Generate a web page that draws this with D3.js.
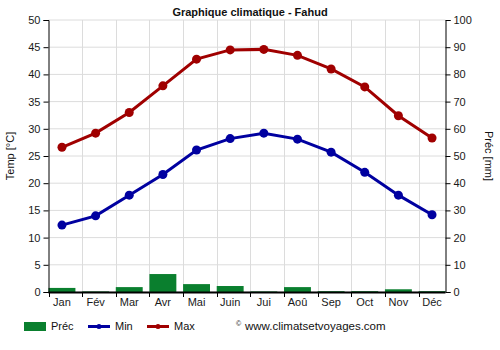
<!DOCTYPE html>
<html><head><meta charset="utf-8">
<script src="https://cdn.jsdelivr.net/npm/d3@7"></script>
<style>body{margin:0;background:#fff}svg{display:block;font-family:"Liberation Sans",Arial,sans-serif}</style>
</head><body><svg id="c" width="500" height="350"></svg>
<script>
const months = ["Jan","Fév","Mar","Avr","Mai","Juin","Jui","Aoû","Sep","Oct","Nov","Déc"];
const tempMin = [12.3,14.0,17.8,21.6,26.1,28.2,29.2,28.1,25.7,22.0,17.8,14.2];
const tempMax = [26.6,29.2,33.0,37.9,42.8,44.5,44.6,43.5,41.0,37.7,32.4,28.3];
const precip = [1.5,0.2,1.8,6.6,2.9,2.2,0.2,1.8,0.3,0.3,1.0,0.3];
const tempTicks = [0,5,10,15,20,25,30,35,40,45,50];
const precTicks = [0,10,20,30,40,50,60,70,80,90,100];

const svg = d3.select("#c");
const L = 48.5, R = 445.5, T = 20, B = 292;
const x = d3.scaleBand().domain(months).range([L, R]).paddingInner(0.2).paddingOuter(0);
const yT = d3.scaleLinear().domain([0,50]).range([B,T]);
const yP = d3.scaleLinear().domain([0,100]).range([B,T]);
const cx = m => x(m) + x.bandwidth()/2;

// grid
const g = svg.append("g");
g.selectAll("line.h").data(tempTicks).join("line")
  .attr("x1", L).attr("x2", R).attr("y1", d => yT(d)).attr("y2", d => yT(d))
  .attr("stroke", "#dcdcdc").attr("stroke-width", 1);
g.selectAll("line.v").data(months.slice(1)).join("line")
  .attr("x1", d => Math.round(x(d))+0.5).attr("x2", d => Math.round(x(d))+0.5).attr("y1", T).attr("y2", B)
  .attr("stroke", "#dcdcdc").attr("stroke-width", 1);

// bars
svg.append("g").selectAll("rect").data(precip).join("rect")
  .attr("x", (d,i) => x(months[i])).attr("width", x.bandwidth())
  .attr("y", d => yP(d)).attr("height", d => B - yP(d))
  .attr("fill", "#0a7f2e");

// axes
const fs = "11px";
const axL = svg.append("g").attr("transform", `translate(${L},0)`)
  .call(d3.axisLeft(yT).tickValues(tempTicks).tickSize(5).tickPadding(3));
const axR = svg.append("g").attr("transform", `translate(${R},0)`)
  .call(d3.axisRight(yP).tickValues(precTicks).tickSize(5).tickPadding(3));
const axB = svg.append("g").attr("transform", `translate(0,${B})`)
  .call(d3.axisBottom(x).tickSize(0).tickPadding(6));
[axL, axR, axB].forEach(a => {
  a.selectAll("text").attr("fill", "#1a1a1a").style("font-size", fs).style("font-family", '"Liberation Sans",Arial,sans-serif');
  a.selectAll("path,line").attr("stroke", "#000");
});
axB.select("path").remove();
svg.append("line").attr("x1", L).attr("x2", R).attr("y1", B+0.5).attr("y2", B+0.5).attr("stroke", "#000").attr("stroke-width", 2);
// x ticks at band boundaries
svg.append("g").selectAll("line").data(months).join("line")
  .attr("x1", d => Math.round(x(d))+0.5).attr("x2", d => Math.round(x(d))+0.5)
  .attr("y1", B).attr("y2", B+5).attr("stroke", "#000");

// lines
const series = [{v: tempMin, c: "#0000a0"}, {v: tempMax, c: "#a00000"}];
series.forEach(s => {
  svg.append("path").datum(s.v)
    .attr("d", d3.line().x((d,i) => cx(months[i])).y(d => yT(d)))
    .attr("fill", "none").attr("stroke", s.c).attr("stroke-width", 3);
  svg.append("g").selectAll("circle").data(s.v).join("circle")
    .attr("cx", (d,i) => cx(months[i])).attr("cy", d => yT(d)).attr("r", 4.5).attr("fill", s.c);
});

// title & labels
svg.append("text").attr("x", 250).attr("y", 16).attr("text-anchor", "middle")
  .style("font-size", "11px").style("font-weight", "bold").attr("fill", "#111").text("Graphique climatique - Fahud");
svg.append("text").attr("transform", `translate(14,${(T+B)/2}) rotate(-90)`).attr("text-anchor", "middle")
  .style("font-size", "11px").attr("fill", "#111").text("Temp [°C]");
svg.append("text").attr("transform", `translate(485,${(T+B)/2}) rotate(90)`).attr("text-anchor", "middle")
  .style("font-size", "11px").attr("fill", "#111").text("Préc [mm]");

// legend
const lg = svg.append("g").style("font-size", "11px").attr("fill", "#111");
lg.append("rect").attr("x", 24).attr("y", 322).attr("width", 22).attr("height", 9).attr("fill", "#0a7f2e");
lg.append("text").attr("x", 51).attr("y", 330).text("Préc");
[{x: 88, c: "#0000a0", t: "Min"}, {x: 147, c: "#a00000", t: "Max"}].forEach(o => {
  lg.append("line").attr("x1", o.x).attr("x2", o.x+22).attr("y1", 326.5).attr("y2", 326.5).attr("stroke", o.c).attr("stroke-width", 3);
  lg.append("circle").attr("cx", o.x+11).attr("cy", 326.5).attr("r", 2.5).attr("fill", o.c);
  lg.append("text").attr("x", o.x+27).attr("y", 330).text(o.t);
});
lg.append("text").attr("x", 236).attr("y", 326).style("font-size", "7px").text("©");
lg.append("text").attr("x", 245).attr("y", 330).style("font-size", "11.5px").text("www.climatsetvoyages.com");
</script></body></html>
